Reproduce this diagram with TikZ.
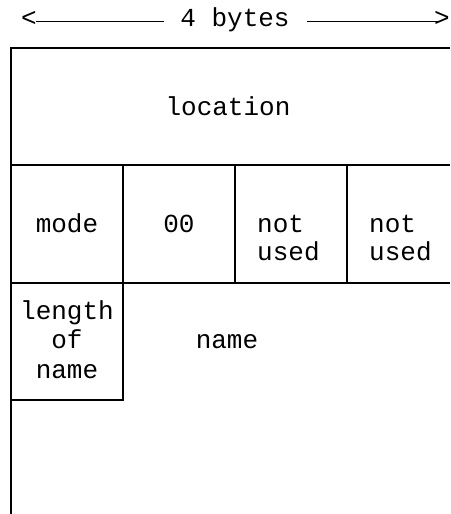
\documentclass[tikz,border=0pt]{standalone}
\usepackage{fontspec}
\newfontfamily\monofnt{Liberation Mono}
\begin{document}
\begin{tikzpicture}[x=1pt,y=-1pt,
  txt/.style={font=\monofnt\fontsize{26}{29}\selectfont,inner sep=0pt,text=black},
  rule/.style={line width=1.3pt,black}]
\useasboundingbox (0,0) rectangle (450,514);
% header
\node[txt,anchor=base] (bytes) at (235,27) {4 bytes};
\node[txt,anchor=base] (lt) at (29,27) {<};
\node[txt,anchor=base east] (gt) at (450,27) {>};
\coordinate (la) at (36,21);
\coordinate (lb) at (164,21);
\coordinate (ra) at (307,21);
\coordinate (rb) at (440,21);
\draw[line width=1pt] (la) -- (lb);
\draw[line width=1pt] (ra) -- (rb);
% grid coordinates
\coordinate (tl) at (11,48);
\coordinate (tr) at (450,48);
\coordinate (ml) at (11,165);
\coordinate (mr) at (450,165);
\coordinate (bl) at (11,283);
\coordinate (br) at (450,283);
\coordinate (bot) at (11,514);
\draw[rule] (tr) -- (tl) -- (bot);
\draw[rule] (ml) -- (mr);
\draw[rule] (bl) -- (br);
\draw[rule] (123,165) -- (123,283);
\draw[rule] (235,165) -- (235,283);
\draw[rule] (347,165) -- (347,283);
\draw[rule] (123,283) -- (123,400) -- (11,400);
% texts
\node[txt,anchor=base] (loc) at (228,115) {location};
\node[txt,anchor=base] (mode) at (67,232) {mode};
\node[txt,anchor=base] (zz) at (179,232) {00};
\node[txt,anchor=base west] (not1) at (257,232) {not};
\node[txt,anchor=base west] (used1) at (257,260) {used};
\node[txt,anchor=base west] (not2) at (369,232) {not};
\node[txt,anchor=base west] (used2) at (369,260) {used};
\node[txt,anchor=base] (len) at (67,319) {length};
\node[txt,anchor=base] (of) at (67,348) {of};
\node[txt,anchor=base] (nm1) at (67,378) {name};
\node[txt,anchor=base] (nm2) at (227,348) {name};
\end{tikzpicture}
\end{document}
